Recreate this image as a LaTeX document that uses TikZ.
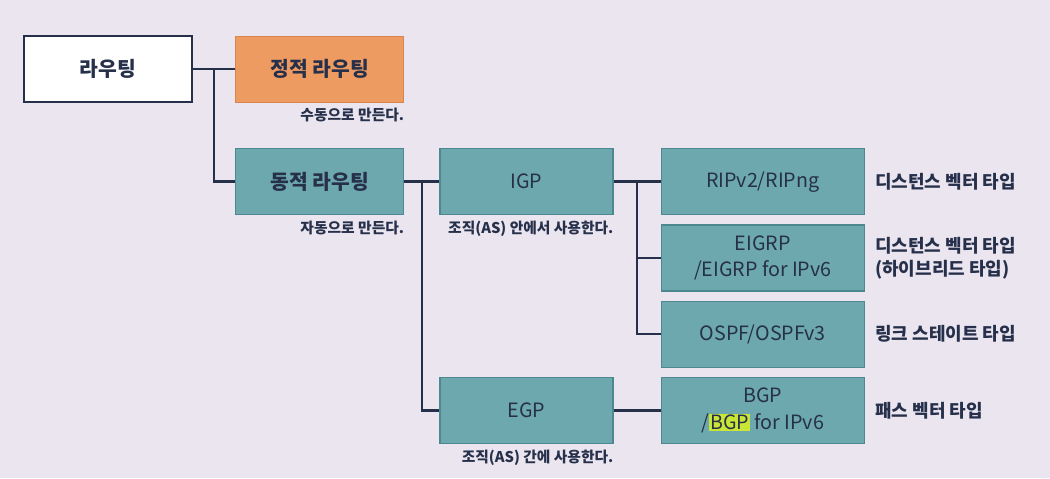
\documentclass[tikz,border=0pt]{standalone}
\usepackage{fontspec}
\setmainfont{Noto Sans CJK KR}
\usepackage{xcolor}
\definecolor{Ink}{HTML}{27304A}
\definecolor{Paper}{HTML}{EAE5EF}
\definecolor{Teal}{HTML}{6CA8AD}
\definecolor{TealEdge}{HTML}{4D8890}
\definecolor{Orange}{HTML}{EE9B62}
\definecolor{OrangeEdge}{HTML}{D9844C}
\definecolor{Marker}{HTML}{C9E636}
\usetikzlibrary{positioning,calc}
\newcommand\marker[1]{{\setlength\fboxsep{0.6pt}\colorbox{Marker}{#1}}}
\tikzset{
  box/.style={draw=Ink,fill=white,line width=1.6pt,minimum width=42mm,minimum height=16.5mm,
    align=center,text=Ink,font=\fontsize{14.5}{19}\selectfont\bfseries,inner sep=2pt},
  staticbox/.style={box,draw=OrangeEdge,fill=Orange,line width=.9pt},
  dynbox/.style={box,draw=TealEdge,fill=Teal,line width=.9pt},
  protobox/.style={dynbox,minimum width=43.25mm,font=\fontsize{14}{19}\selectfont},
  algbox/.style={protobox,minimum width=50.75mm},
  link/.style={line width=1.8pt,draw=Ink},
  note/.style={font=\fontsize{10.5}{12}\selectfont\bfseries,text=Ink,inner sep=0pt},
  kind/.style={note,font=\fontsize{12.8}{16.5}\selectfont\bfseries,align=left}
}
\begin{document}
\begin{tikzpicture}
\fill[Paper] (0,0) rectangle (262.5mm,-119.5mm);
\useasboundingbox (0,0) rectangle (262.5mm,-119.5mm);
% left part
\node[box] (route) at (27mm,-17.3mm) {라우팅};
\node[staticbox,right=10.5mm of route] (static) {정적 라우팅};
\node[dynbox,below=11.3mm of static] (dynamic) {동적 라우팅};
\node[note,anchor=north east] (manual) at ([yshift=-1.3mm]static.south east) {수동으로 만든다.};
\node[note,anchor=north east] (auto) at ([yshift=-1.3mm]dynamic.south east) {자동으로 만든다.};
% IGP / EGP
\node[protobox,right=8.75mm of dynamic] (igp) {IGP};
\node[algbox,right=11.75mm of igp] (rip) {RIPv2/RIPng};
\node[algbox,below=2.25mm of rip] (eigrp) {EIGRP\\/EIGRP for IPv6};
\node[algbox,below=2.25mm of eigrp] (ospf) {OSPF/OSPFv3};
\node[algbox,below=2.25mm of ospf] (bgp) {BGP\\/\marker{BGP} for IPv6};
\node[protobox,left=11.75mm of bgp] (egp) {EGP};
\node[note,anchor=north east] (inside) at ([yshift=-1.3mm]igp.south east) {조직(AS) 안에서 사용한다.};
\node[note,anchor=north east] (between) at ([yshift=-1.3mm]egp.south east) {조직(AS) 간에 사용한다.};
% types
\node[kind,right=2.5mm of rip] (krip) {디스턴스 벡터 타입};
\node[kind,right=2.5mm of eigrp] (keigrp) {디스턴스 벡터 타입\\(하이브리드 타입)};
\node[kind,right=2.5mm of ospf] (kospf) {링크 스테이트 타입};
\node[kind,right=2.5mm of bgp] (kbgp) {패스 벡터 타입};
% connectors
\coordinate (j1) at ($(route.east)!.5!(static.west)$);
\coordinate (j2) at ($(dynamic.east)!.5!(igp.west)$);
\coordinate (j3) at ($(igp.east)!.5!(rip.west)$);
\draw[link] (route) -- (static);
\draw[link] (j1) |- (dynamic.west);
\draw[link] (dynamic) -- (igp);
\draw[link] (j2) |- (egp.west);
\draw[link] (igp) -- (rip);
\draw[link] (j3) |- (eigrp.west);
\draw[link] (j3) |- (ospf.west);
\draw[link] (egp) -- (bgp);
\end{tikzpicture}
\end{document}
